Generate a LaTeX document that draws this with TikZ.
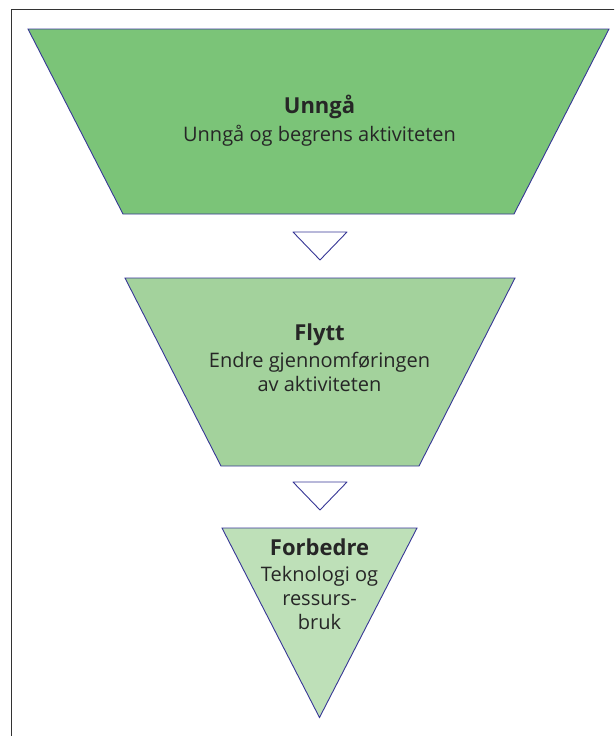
\documentclass[tikz,border=0pt]{standalone}
\usepackage{fontspec}
\setmainfont{Open Sans}
\usetikzlibrary{positioning}
\definecolor{stageone}{RGB}{123,196,120}
\definecolor{stagetwo}{RGB}{163,210,156}
\definecolor{stagethree}{RGB}{190,224,184}
\definecolor{edgeblue}{RGB}{55,55,150}
\tikzset{stage/.style={draw = edgeblue, line width = 0.9pt, line join = miter}}
\tikzset{pointer/.style={draw = edgeblue, line width = 0.9pt, fill = white, line join = round}}
\tikzset{stagetitle/.style={font = \fontsize{22}{26}\selectfont\bfseries, text = black!85, inner sep = 0pt}}
\tikzset{stagetext/.style={align = center, font = \fontsize{20}{24}\selectfont, text = black!85, inner sep = 0pt}}

\begin{document}
\begin{tikzpicture}[x = 1pt, y = -1pt]
\useasboundingbox (0,0) rectangle (614,736);
\clip (0,0) rectangle (614,736);
\draw[line width = 1.4pt, color = black!80] (11.5,9.5) rectangle (700,800);

\fill[stage, fill = stageone] (28,29) -- (609,29) -- (514,214) -- (123,214) -- cycle;
\node[stagetitle] (avoid) at (319.5,107) {Unngå};
\node[stagetext] (avoidtext) at (319.5,136) {Unngå og begrens aktiviteten};

\filldraw[pointer] (293,232) -- (347,232) -- (320,260) -- cycle;

\fill[stage, fill = stagetwo] (125,278) -- (515,278) -- (419,466) -- (221,466) -- cycle;
\node[stagetitle] (shift) at (319.5,335) {Flytt};
\node[stagetext] (shifttext) at (319.5,372) {Endre gjennomføringen\\av aktiviteten};

\filldraw[pointer] (293,482) -- (347,482) -- (320,510) -- cycle;

\fill[stage, fill = stagethree] (222,528) -- (417,528) -- (319.5,717.5) -- cycle;
\node[stagetitle] (improve) at (319.5,547) {Forbedre};
\node[stagetext] (improvetext) at (319.5,598) {Teknologi og\\ressurs-\\bruk};
\end{tikzpicture}
\end{document}
